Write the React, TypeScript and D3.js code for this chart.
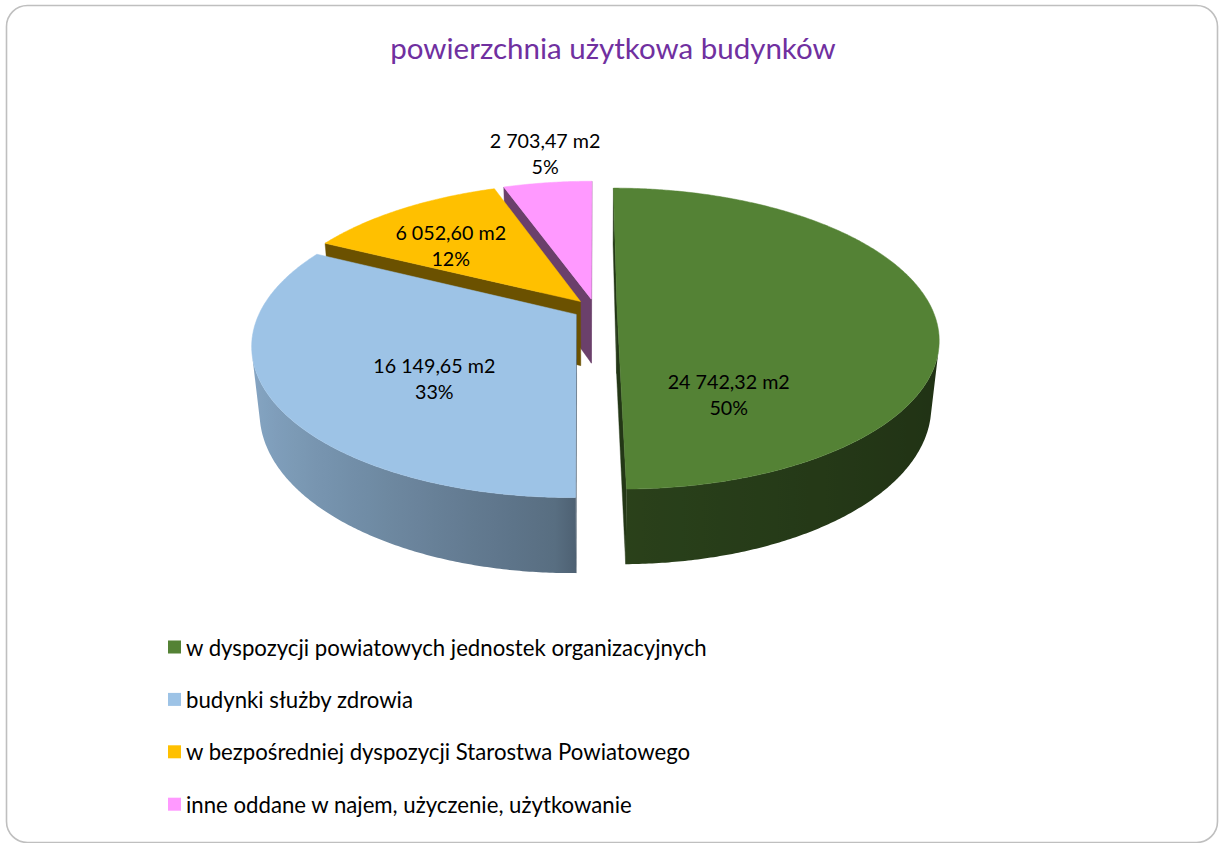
import React from "react";
import * as d3 from "d3";

// ---------- data ----------
const chartTitle = "powierzchnia użytkowa budynków";
const categories = [
  "w dyspozycji powiatowych jednostek organizacyjnych",
  "budynki służby zdrowia",
  "w bezpośredniej dyspozycji Starostwa Powiatowego",
  "inne oddane w najem, użyczenie, użytkowanie",
];
const values = [24742.32, 16149.65, 6052.6, 2703.47];
const unitSuffix = " m2";

// ---------- style / layout ----------
const colors = ["#548235", "#9dc3e6", "#ffc000", "#ff99ff"];
const W = 1219;
const H = 843;
const CAM = { cx: 595, cy: 309, D: 4.54, cosT: 0.894, sinT: 0.448, fx: 1430, fy: 1466 };
const THICK = 0.229;
const EXPLODE = 0.07;
const labelShiftDeg = [60, -12.4, -5, 1.5];
const labelRadius = [0.615, 0.57, 0.627, 1.31];
const FONT = "Lato, 'Open Sans', sans-serif";

const plLocale = d3.formatLocale({ decimal: ",", thousands: " ", grouping: [3], currency: ["", ""] });
const fmtVal = plLocale.format(",.2f");
const fmtPct = d3.format(".0%");

function zc(u: number, v: number, h: number) {
  return CAM.D + v * CAM.cosT - h * CAM.sinT;
}
function project(u: number, v: number, h: number): [number, number] {
  const z = zc(u, v, h);
  return [CAM.cx + (CAM.fx * u) / z, CAM.cy - (CAM.fy * (v * CAM.sinT + h * CAM.cosT)) / z];
}
function shade(c: string, b: number) {
  const r = d3.rgb(c);
  return d3.rgb(r.r * b, r.g * b, r.b * b).formatHex();
}
function sideBrightness(a: number) {
  const nu = Math.sin(a);
  return nu < 0 ? 0.55 + 0.31 * -nu : 0.5 - 0.12 * nu;
}

export default function App() {
  const pie = d3
    .pie<number>()
    .sort(null)
    .value((d) => d)
    .startAngle(0)
    .endAngle(2 * Math.PI);
  const arcs = pie(values);
  const total = d3.sum(values);
  const line = d3.line<[number, number]>();
  const color = d3.scaleOrdinal<number, string>().domain(d3.range(values.length)).range(colors);

  const pieces: { d: string; fill: string; depth: number }[] = [];
  const tops: { d: string; fill: string }[] = [];
  const grads: { id: string; x1: number; x2: number; stops: { offset: number; color: string }[] }[] = [];
  const labels: { x: number; y: number; l1: string; l2: string }[] = [];

  const camV = -CAM.D * CAM.cosT;

  arcs.forEach((arc, i) => {
    const a0 = arc.startAngle;
    const a1 = arc.endAngle;
    const mid = (a0 + a1) / 2;
    const ou = EXPLODE * Math.sin(mid);
    const ov = EXPLODE * Math.cos(mid);
    const n = Math.max(2, Math.ceil((a1 - a0) / (Math.PI / 360)));
    const angles = d3.range(n + 1).map((k) => a0 + ((a1 - a0) * k) / n);
    const rim = (a: number, h: number) => project(ou + Math.sin(a), ov + Math.cos(a), h);

    // top face
    const topPts: [number, number][] = [project(ou, ov, 0), ...angles.map((a) => rim(a, 0))];
    tops.push({ d: line(topPts) + "Z", fill: color(i) });

    // curved outer side
    const vis = angles.map((a) => {
      const u = ou + Math.sin(a);
      const v = ov + Math.cos(a);
      return Math.sin(a) * -u + Math.cos(a) * (camV - v) > 0;
    });
    const runs: number[][] = [];
    let run: number[] = [];
    angles.forEach((a, k) => {
      if (vis[k]) run.push(a);
      else {
        if (run.length > 1) runs.push(run);
        run = [];
      }
    });
    if (run.length > 1) runs.push(run);
    runs.forEach((r, ri) => {
      const top = r.map((a) => rim(a, 0));
      const bot = r.map((a) => rim(a, -THICK)).reverse();
      const d = line([...top, ...bot]) + "Z";
      const xs = top.map((p) => p[0]);
      const minX = d3.min(xs)!;
      const maxX = d3.max(xs)!;
      const stops = r
        .map((a, k) => ({
          offset: (top[k][0] - minX) / Math.max(1, maxX - minX),
          color: shade(color(i), sideBrightness(a)),
        }))
        .filter((_, k) => k % 6 === 0 || k === r.length - 1)
        .sort((p, q) => p.offset - q.offset);
      const id = `side_${i}_${ri}`;
      grads.push({ id, x1: minX, x2: maxX, stops });
      const am = r[Math.floor(r.length / 2)];
      pieces.push({ d, fill: `url(#${id})`, depth: zc(ou + Math.sin(am), ov + Math.cos(am), -THICK / 2) });
    });

    // radial faces
    ([
      [a0, -1],
      [a1, 1],
    ] as [number, number][]).forEach(([a, sgn]) => {
      const nu = sgn * Math.cos(a);
      const nv = -sgn * Math.sin(a);
      const mu = ou + 0.5 * Math.sin(a);
      const mv = ov + 0.5 * Math.cos(a);
      const dot = nu * -mu + nv * (camV - mv);
      if (dot <= 0) return;
      const pts: [number, number][] = [project(ou, ov, 0), rim(a, 0), rim(a, -THICK), project(ou, ov, -THICK)];
      pieces.push({ d: line(pts) + "Z", fill: shade(color(i), 0.42), depth: zc(mu, mv, -THICK / 2) });
    });

    // label
    const la = mid + (labelShiftDeg[i] * Math.PI) / 180;
    const lr = labelRadius[i];
    const [lx, ly] = project(ou + lr * Math.sin(la), ov + lr * Math.cos(la), 0);
    labels.push({ x: lx, y: ly, l1: fmtVal(values[i]) + unitSuffix, l2: fmtPct(values[i] / total) });
  });

  pieces.sort((p, q) => q.depth - p.depth);

  const legendY = d3.scaleLinear().domain([0, 1]).range([647, 699.4]);

  return (
    <svg
      width={W}
      height={H}
      style={{ position: "absolute", left: 0, top: 0, background: "#fff" }}
      fontFamily={FONT}
    >
      <defs>
        {grads.map((g) => (
          <linearGradient key={g.id} id={g.id} gradientUnits="userSpaceOnUse" x1={g.x1} x2={g.x2} y1={0} y2={0}>
            {g.stops.map((s, k) => (
              <stop key={k} offset={s.offset} stopColor={s.color} />
            ))}
          </linearGradient>
        ))}
      </defs>
      <rect x={6.5} y={5.5} width={1211} height={837} rx={21} ry={21} fill="#fff" stroke="#bfbfbf" strokeWidth={1.6} />
      <text x={613} y={47} textAnchor="middle" dominantBaseline="central" fontSize={29.5} fill="#7030a0">
        {chartTitle}
      </text>
      {pieces.map((p, k) => (
        <path key={"s" + k} d={p.d} fill={p.fill} stroke={p.fill.startsWith("url") ? "none" : p.fill} strokeWidth={0.4} />
      ))}
      {tops.map((t, k) => (
        <path key={"t" + k} d={t.d} fill={t.fill} stroke={t.fill} strokeWidth={0.5} />
      ))}
      {labels.map((l, k) => (
        <g key={"l" + k} fontSize={19.7} fill="#000" textAnchor="middle">
          <text x={l.x} y={l.y - 13} dominantBaseline="central">
            {l.l1}
          </text>
          <text x={l.x} y={l.y + 13} dominantBaseline="central">
            {l.l2}
          </text>
        </g>
      ))}
      {categories.map((c, i) => (
        <g key={"lg" + i}>
          <rect x={168} y={legendY(i) - 6.5} width={13} height={13} fill={color(i)} />
          <text x={186} y={legendY(i)} dominantBaseline="central" fontSize={22.2} fill="#000">
            {c}
          </text>
        </g>
      ))}
    </svg>
  );
}
